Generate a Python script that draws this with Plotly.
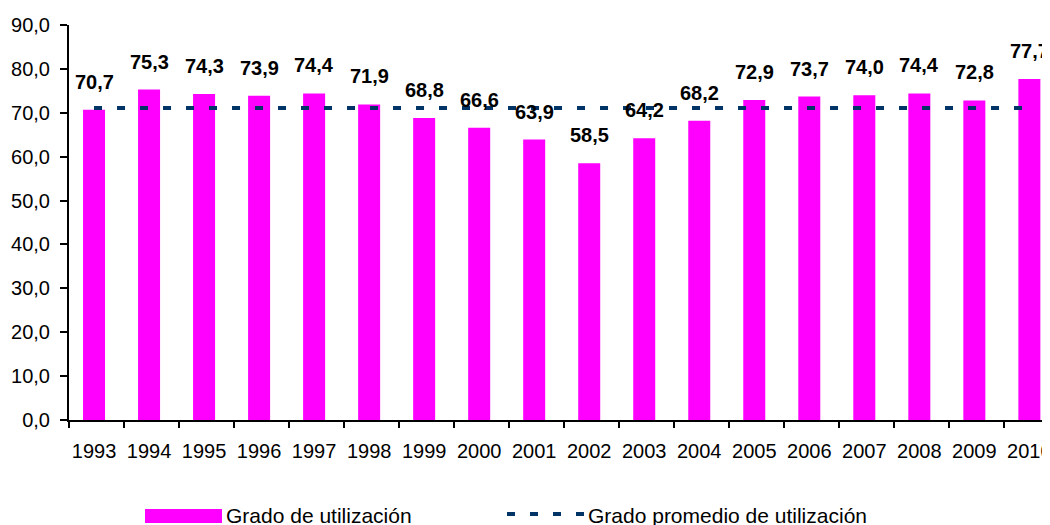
import plotly.graph_objects as go

years = ["1993", "1994", "1995", "1996", "1997", "1998", "1999", "2000", "2001",
         "2002", "2003", "2004", "2005", "2006", "2007", "2008", "2009", "2010"]
utilizacion = [70.7, 75.3, 74.3, 73.9, 74.4, 71.9, 68.8, 66.6, 63.9,
               58.5, 64.2, 68.2, 72.9, 73.7, 74.0, 74.4, 72.8, 77.7]
promedio = 71.1
labels = [f"{v:.1f}".replace(".", ",") for v in utilizacion]

MAGENTA = "#FF00FF"
NAVY = "#003366"
FONT = "Liberation Sans, Arial, sans-serif"

# page offset of the figure (body margin)
OFF = 8
# plot area geometry in page pixels
L, R, T, B = 69, 1050, 25, 420
W, H = R - L, B - T
def px(x): return (x - L) / W
def py(y): return (B - y) / H

idx = list(range(len(years)))
BAR_W = 0.4
SHIFT = -0.045  # marks sit slightly left of the category centre
XR = [-0.5, 17.33]

fig = go.Figure()
fig.add_trace(go.Bar(
    x=[i + SHIFT for i in idx], y=utilizacion, marker_color=MAGENTA,
    marker_line_width=0, width=BAR_W,
    name="Grado de utilización", showlegend=False))
fig.add_trace(go.Scatter(
    x=[i + SHIFT for i in idx], y=[promedio] * len(years), mode="lines",
    line=dict(color=NAVY, width=4, dash="8px,15px"),
    name="Grado promedio de utilización", showlegend=False))
# invisible trace carrying the boundary tick axis
fig.add_trace(go.Scatter(x=XR, y=[0, 0], xaxis="x2", mode="lines",
                         line=dict(width=0), showlegend=False, hoverinfo="skip"))

for i, (v, t) in enumerate(zip(utilizacion, labels)):
    fig.add_annotation(x=i + SHIFT, y=v, text=f"<b>{t}</b>", showarrow=False,
                       yanchor="bottom", yshift=15,
                       font=dict(family=FONT, size=20, color="black"))

# legend
fig.add_shape(type="rect", xref="paper", yref="paper",
              x0=px(145), x1=px(222), y0=py(523), y1=py(509),
              fillcolor=MAGENTA, line_width=0)
fig.add_annotation(xref="paper", yref="paper", x=px(224), y=py(515),
                   text="Grado de utilización", showarrow=False,
                   xanchor="left", yanchor="middle",
                   font=dict(family=FONT, size=21, color="black"))
fig.add_shape(type="line", xref="paper", yref="paper",
              x0=px(507), x1=px(586), y0=py(514), y1=py(514),
              line=dict(color=NAVY, width=4, dash="8px,15px"))
fig.add_annotation(xref="paper", yref="paper", x=px(586), y=py(515),
                   text="Grado promedio de utilización", showarrow=False,
                   xanchor="left", yanchor="middle",
                   font=dict(family=FONT, size=21, color="black"))

fig.update_layout(
    width=1050, height=525,
    margin=dict(l=L - OFF, r=OFF, t=T - OFF, b=525 - (B - OFF)),
    paper_bgcolor="white", plot_bgcolor="white",
    separators=",.",
    font=dict(family=FONT, size=20, color="black"),
    showlegend=False,
    xaxis=dict(
        range=XR, tickmode="array", tickvals=[i + SHIFT for i in idx],
        ticktext=years, tickangle=0, automargin=False,
        showline=True, linecolor="black", linewidth=2,
        ticks="outside", ticklen=7, tickwidth=2, tickcolor="rgba(0,0,0,0)",
        ticklabelstandoff=5, showgrid=False, zeroline=False,
        tickfont=dict(family=FONT, size=20, color="black")),
    xaxis2=dict(
        range=XR, overlaying="x", anchor="y", side="bottom",
        tickmode="array", tickvals=[i - 0.5 for i in range(len(years) + 1)],
        ticks="outside", ticklen=7, tickwidth=2, tickcolor="black",
        showticklabels=False, showline=False, showgrid=False,
        zeroline=False, automargin=False),
    yaxis=dict(
        range=[0, 90], dtick=10, tickformat=".1f", automargin=False,
        showline=True, linecolor="black", linewidth=2,
        ticks="outside", ticklen=7, tickwidth=2, tickcolor="black",
        ticklabelstandoff=6, showgrid=False, zeroline=False,
        tickfont=dict(family=FONT, size=20, color="black")),
)

fig.write_html("out.html")
